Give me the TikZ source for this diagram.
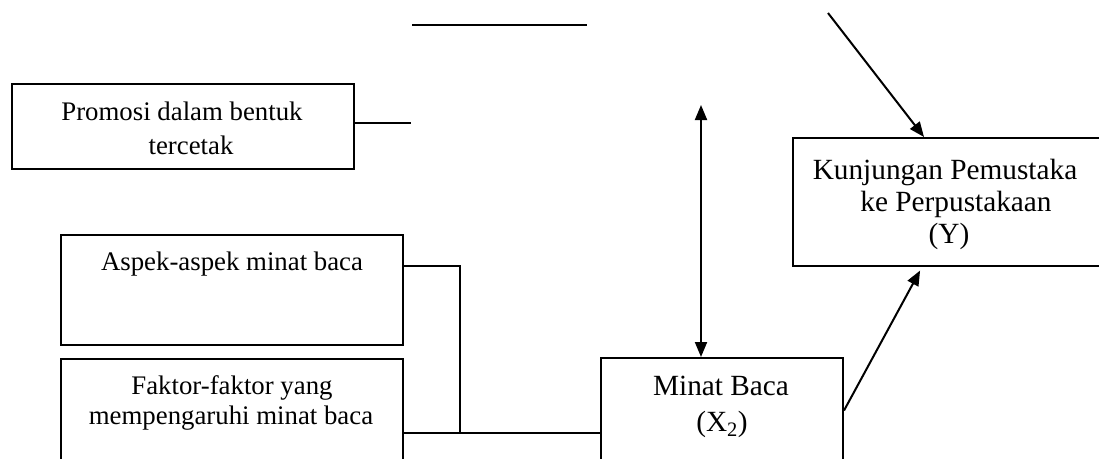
\documentclass[tikz,border=0pt]{standalone}
\usepackage{fontspec}
\setmainfont{Liberation Serif}
\usetikzlibrary{arrows.meta}
\begin{document}
\begin{tikzpicture}[x=1pt,y=-1pt,
  box/.style={draw, line width=2pt, rectangle, inner sep=0pt, anchor=north west},
  conn/.style={line width=2pt},
  arr/.style={line width=2pt, -{Triangle[length=15pt,width=12pt]}},
  darr/.style={line width=2pt, {Triangle[length=15pt,width=12pt]}-{Triangle[length=15pt,width=12pt]}},
  txa/.style={anchor=base, inner sep=0pt, font=\fontsize{26.8}{31}\selectfont},
  txb/.style={anchor=base, inner sep=0pt, font=\fontsize{29.3}{33}\selectfont}]
\useasboundingbox (0,0) rectangle (1099,458);
\clip (0,0) rectangle (1099,458);
\fill[white] (0,0) rectangle (1099,458);
% boxes
\node[box, minimum width=342pt, minimum height=85pt] (promosi) at (11,83) {};
\node[box, minimum width=342pt, minimum height=110pt] (aspek) at (60,234) {};
\node[box, minimum width=342pt, minimum height=120pt] (faktor) at (60,358) {};
\node[box, minimum width=242pt, minimum height=120pt] (minat) at (600,357) {};
\node[box, minimum width=320pt, minimum height=128pt] (kunj) at (792,137) {};
% texts
\node[txa] (p1) at (182,120) {Promosi dalam bentuk};
\node[txa] (p2) at (191,154) {tercetak};
\node[txa] (a1) at (232,270) {Aspek-aspek minat baca};
\node[txa] (f1) at (232,394) {Faktor-faktor yang};
\node[txa] (f2) at (231,424) {mempengaruhi minat baca};
\node[txb] (m1) at (721,395) {Minat Baca};
\node[txb] (m2) at (722,431) {(X\textsubscript{2})};
\node[txb] (k1) at (945,179) {Kunjungan Pemustaka};
\node[txb] (k2) at (956,211) {ke Perpustakaan};
\node[txb] (k3) at (949,243) {(Y)};
% coordinates
\coordinate (t1) at (412,25);
\coordinate (t2) at (587,25);
\coordinate (pend) at (411,123);
\coordinate (d0) at (828,13);
\coordinate (vtop) at (701,105);
\coordinate (j) at (460,433);
% connectors
\draw[conn] (t1) -- (t2);
\draw[conn] (pend -| promosi.east) -- (pend);
\draw[arr] (d0) -- ([xshift=132pt]kunj.north west);
\draw[darr] (vtop) -- (vtop |- minat.north);
\draw[conn] ([yshift=24pt]aspek.east) -| (j);
\draw[conn] (j -| faktor.east) -- (j -| minat.west);
\draw[arr, shorten >=4pt] ([yshift=7.5pt]minat.east) -- ([xshift=130pt]kunj.south west);
\end{tikzpicture}
\end{document}
